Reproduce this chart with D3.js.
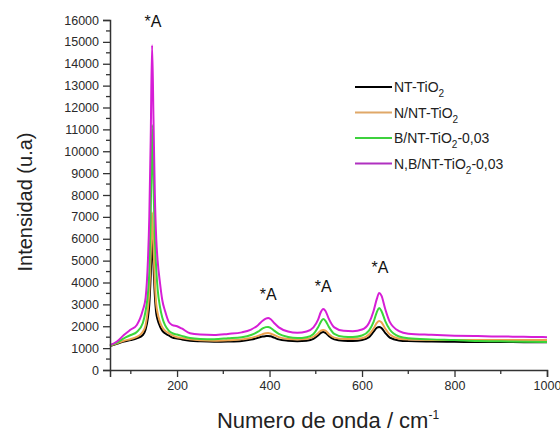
<!DOCTYPE html>
<html>
<head>
<meta charset="utf-8">
<script src="https://cdn.jsdelivr.net/npm/d3@7"></script>
<style>
  body { margin: 0; background: #fff; }
  svg { font-family: "Liberation Sans", Arial, sans-serif; }
</style>
</head>
<body>
<div id="chart"></div>
<script>
// Raman spectra
const wavenumber = [55, 70, 85, 100, 113, 126, 132, 137, 140, 143, 146, 149, 152, 155, 158, 163, 168, 174, 182, 190, 200, 210, 228, 250, 280, 310, 340, 360, 375, 385, 392, 397, 402, 410, 420, 440, 460, 480, 495, 505, 511, 516, 521, 528, 540, 560, 580, 600, 615, 625, 632, 637, 642, 650, 660, 680, 700, 750, 800, 850, 900, 950, 1000];

const ntTiO2 = [1100, 1200, 1300, 1370, 1450, 1600, 1850, 2400, 3000, 4300, 6000, 4800, 3400, 2600, 2300, 2000, 1800, 1680, 1580, 1480, 1440, 1400, 1340, 1310, 1290, 1300, 1330, 1390, 1470, 1530, 1550, 1560, 1540, 1480, 1400, 1340, 1320, 1340, 1420, 1580, 1700, 1740, 1700, 1560, 1400, 1340, 1330, 1370, 1500, 1750, 1930, 1970, 1920, 1700, 1480, 1350, 1320, 1300, 1290, 1280, 1280, 1270, 1270];

const nNtTiO2 = [1100, 1220, 1330, 1420, 1510, 1750, 2050, 2800, 3600, 5200, 7200, 5600, 4000, 3000, 2600, 2200, 1950, 1800, 1680, 1580, 1500, 1460, 1400, 1360, 1340, 1360, 1400, 1460, 1560, 1640, 1680, 1690, 1670, 1600, 1500, 1420, 1400, 1420, 1520, 1680, 1800, 1830, 1800, 1650, 1480, 1420, 1420, 1450, 1620, 1900, 2150, 2240, 2180, 1900, 1620, 1430, 1390, 1370, 1370, 1370, 1370, 1370, 1370];

const bNtTiO2 = [1120, 1250, 1450, 1600, 1740, 2150, 2700, 3500, 4500, 7000, 11200, 8500, 6000, 4600, 3700, 2900, 2400, 2050, 1800, 1680, 1620, 1560, 1460, 1420, 1410, 1450, 1500, 1600, 1750, 1900, 1960, 1970, 1930, 1800, 1650, 1510, 1460, 1500, 1650, 1950, 2200, 2330, 2250, 1980, 1650, 1520, 1510, 1580, 1800, 2200, 2650, 2830, 2700, 2250, 1850, 1530, 1450, 1400, 1370, 1330, 1310, 1290, 1280];

const nbNtTiO2 = [1140, 1300, 1600, 1850, 2060, 2740, 3300, 5000, 7000, 10500, 14850, 11500, 8000, 6000, 5000, 4000, 3200, 2700, 2200, 2050, 2000, 1900, 1680, 1620, 1600, 1650, 1720, 1850, 2050, 2250, 2350, 2380, 2330, 2150, 1950, 1760, 1700, 1760, 1950, 2300, 2650, 2790, 2700, 2350, 1950, 1790, 1770, 1850, 2150, 2700, 3250, 3520, 3400, 2800, 2200, 1780, 1660, 1610, 1570, 1550, 1530, 1520, 1500];

const seriesNames = ['NT-TiO2', 'N/NT-TiO2', 'B/NT-TiO2-0,03', 'N,B/NT-TiO2-0,03'];
const seriesColors = ['#000000', '#eca24e', '#3ad63a', '#d61ed6'];
const legendColors = ['#000000', '#e0a868', '#3ed13e', '#b030c0'];

// peak annotations "*A"
const peakX = [148, 397, 516, 639];
const peakLabelY = [15700, 3200, 3570, 4430];

const yTicks = d3.range(0, 16001, 1000);
const xTicks = [200, 400, 600, 800, 1000];

const width = 560, height = 433;
const margin = { top: 20, right: 13, bottom: 63, left: 110 };

const svg = d3.select('#chart')
    .append('svg')
    .attr('width', width)
    .attr('height', height);

const xScale = d3.scaleLinear()
    .domain([55, 1000])
    .range([margin.left, width - margin.right]);

const yScale = d3.scaleLinear()
    .domain([0, 16000])
    .range([height - margin.bottom, margin.top]);

// Lines
const allSeries = [ntTiO2, nNtTiO2, bNtTiO2, nbNtTiO2];
const line = d3.line()
    .x((d, i) => xScale(wavenumber[i]))
    .y(d => yScale(d))
    .curve(d3.curveMonotoneX);

allSeries.forEach((values, k) => {
    svg.append('path')
        .datum(values)
        .attr('fill', 'none')
        .attr('stroke', seriesColors[k])
        .attr('stroke-width', 2)
        .attr('stroke-linejoin', 'round')
        .attr('d', line);
});

// Y axis
const yAxis = svg.append('g')
    .attr('transform', `translate(${margin.left},0)`)
    .call(d3.axisLeft(yScale).tickValues(yTicks).tickFormat(d3.format('d')).tickSize(7).tickPadding(4));
yAxis.selectAll('.tick line').attr('stroke', '#333').attr('stroke-width', 1.3);
yAxis.append('g')
    .selectAll('line')
    .data(d3.range(500, 16000, 1000))
    .join('line')
    .attr('x1', -4).attr('x2', 0)
    .attr('y1', d => yScale(d)).attr('y2', d => yScale(d))
    .attr('stroke', '#333').attr('stroke-width', 1.3);

// X axis
const xAxis = svg.append('g')
    .attr('transform', `translate(0,${height - margin.bottom})`)
    .call(d3.axisBottom(xScale).tickValues(xTicks).tickFormat(d3.format('d')).tickSize(7).tickPadding(4));
xAxis.selectAll('.tick line').attr('stroke', '#333').attr('stroke-width', 1.3);
xAxis.append('g')
    .selectAll('line')
    .data([100, 300, 500, 700, 900])
    .join('line')
    .attr('x1', d => xScale(d)).attr('x2', d => xScale(d))
    .attr('y1', 0).attr('y2', 4)
    .attr('stroke', '#333').attr('stroke-width', 1.3);

[yAxis, xAxis].forEach(ax => {
    ax.select('.domain').attr('stroke', '#333').attr('stroke-width', 1.5);
    ax.selectAll('.tick text').attr('fill', '#2a2a2a').style('font-size', '12.5px');
});

// Axis titles
svg.append('text')
    .attr('transform', 'translate(32,202) rotate(-90)')
    .attr('text-anchor', 'middle')
    .style('font-size', '20px')
    .attr('fill', '#222')
    .text('Intensidad (u.a)');

const xTitle = svg.append('text')
    .attr('x', 328)
    .attr('y', 428)
    .attr('text-anchor', 'middle')
    .style('font-size', '22px')
    .attr('fill', '#222');
xTitle.append('tspan').text('Numero de onda / cm');
xTitle.append('tspan').attr('dy', -9).style('font-size', '12px').text('-1');

// Peak labels
svg.append('g')
    .selectAll('text')
    .data(peakX)
    .join('text')
    .attr('x', d => xScale(d))
    .attr('y', (d, i) => yScale(peakLabelY[i]))
    .attr('text-anchor', 'middle')
    .style('font-size', '16px')
    .attr('fill', '#111')
    .text('*A');

// Legend
const legend = svg.append('g').attr('transform', 'translate(355,87)');
seriesNames.forEach((name, i) => {
    const row = legend.append('g').attr('transform', `translate(0,${i * 25.5})`);
    row.append('line')
        .attr('x1', 0).attr('x2', 37)
        .attr('stroke', legendColors[i])
        .attr('stroke-width', 1.8);
    const parts = name.split('TiO2');
    const t = row.append('text')
        .attr('x', 39)
        .attr('y', 5)
        .style('font-size', '14px')
        .attr('fill', '#222');
    t.append('tspan').text(parts[0] + 'TiO');
    t.append('tspan').attr('dy', 5).style('font-size', '10px').text('2');
    if (parts[1]) t.append('tspan').attr('dy', -5).text(parts[1]);
});
</script>
</body>
</html>
